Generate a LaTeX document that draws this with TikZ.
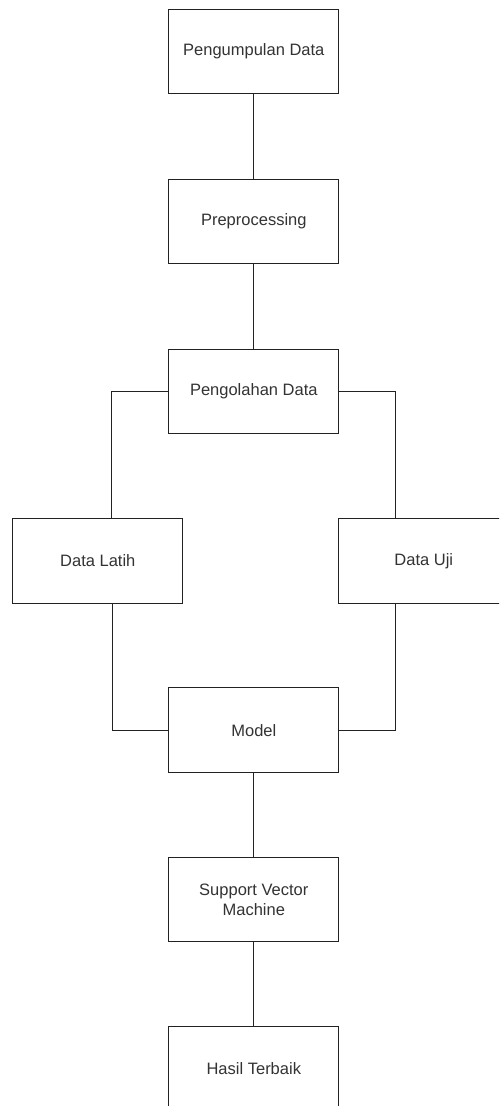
\documentclass[tikz,border=0pt]{standalone}
\usepackage{fontspec}
\setmainfont{Liberation Sans}
\usetikzlibrary{calc}
\definecolor{txt}{HTML}{333333}
\definecolor{ln}{HTML}{222222}
\begin{document}
\begin{tikzpicture}[x=1pt,y=1pt,
  box/.style={draw=ln,line width=1pt,fill=white,minimum width=170.3pt,minimum height=84.5pt,inner sep=0pt,
    align=center,text=txt,font=\fontsize{16.5}{20}\selectfont},
  link/.style={draw=ln,line width=1pt}]
\useasboundingbox (0,0) rectangle (499,-1106);
\clip (0,0) rectangle (499,-1106);
\node[box] (b1) at (253.8,-51.3) {Pengumpulan Data};
\node[box] (b2) at (253.8,-221.3) {Preprocessing};
\node[box] (b3) at (253.8,-391.3) {Pengolahan Data};
\node[box] (latih) at (97.8,-560.8) {Data Latih};
\node[box] (uji) at (423.8,-560.8) {Data Uji};
\node[box] (model) at (253.8,-730.2) {Model};
\node[box] (svm) at (253.8,-899.5) {Support Vector\\Machine};
\node[box] (hasil) at (253.8,-1069) {Hasil Terbaik};
\draw[link] (b1) -- (b2);
\draw[link] (b2) -- (b3);
\draw[link] (b3.west) -| ([xshift=14pt]latih.north);
\draw[link] (b3.east) -| ([xshift=-28pt]uji.north);
\draw[link] ([xshift=14.5pt]latih.south) |- (model.west);
\draw[link] ([xshift=-28.5pt]uji.south) |- (model.east);
\draw[link] (model) -- (svm);
\draw[link] (svm) -- (hasil);
\end{tikzpicture}
\end{document}
